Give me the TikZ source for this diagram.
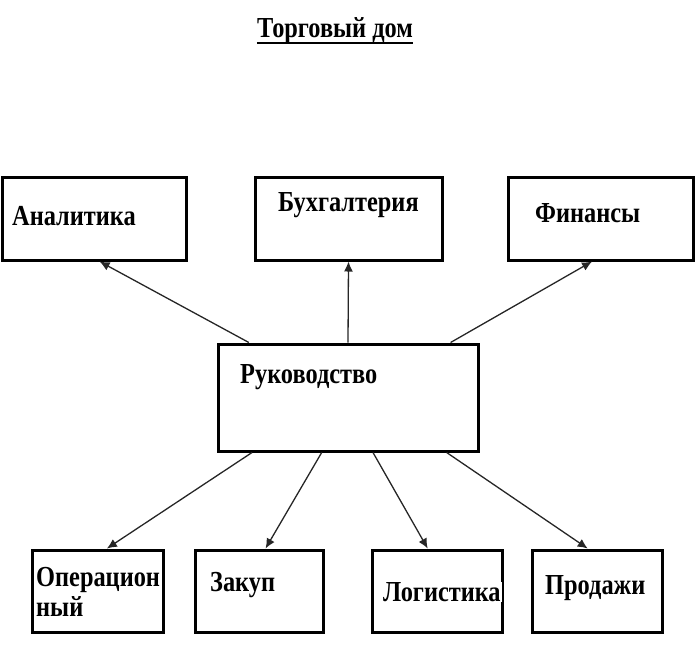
\documentclass[tikz,border=0pt]{standalone}
\usepackage{fontspec}
\setmainfont{Liberation Serif}[FakeStretch=0.84]
\usetikzlibrary{arrows.meta,calc}
\begin{document}
\begin{tikzpicture}[x=1pt,y=-1pt,
  box/.style={draw=black,line width=3pt,rectangle,inner sep=0pt},
  lbl/.style={anchor=west,inner sep=0pt,font=\fontsize{29}{30}\selectfont\bfseries},
  con/.style={line width=1.3pt,draw=black!85,-{Latex[length=10pt,width=9pt]}}]
\useasboundingbox (0,0) rectangle (700,646);
% title
\node[lbl,anchor=base] (title) at (335,37) {Торговый дом};
\draw[line width=2.2pt] ([yshift=-6pt]title.base west) -- ([yshift=-6pt]title.base east);
% boxes
\node[box,minimum width=184pt,minimum height=83pt] (an) at (94,218.5) {};
\node[box,minimum width=187pt,minimum height=83pt] (bu) at (348.5,218.5) {};
\node[box,minimum width=185pt,minimum height=83pt] (fi) at (600.5,218.5) {};
\node[box,minimum width=260pt,minimum height=107pt] (ru) at (348,397.5) {};
\node[box,minimum width=131pt,minimum height=82pt] (op) at (97.5,591) {};
\node[box,minimum width=128pt,minimum height=82pt] (za) at (259,591) {};
\node[box,minimum width=130pt,minimum height=82pt] (lo) at (437,591) {};
\node[box,minimum width=130pt,minimum height=82pt] (pr) at (597,591) {};
% labels
\node[lbl] (tan) at (12,216) {Аналитика};
\node[lbl] (tbu) at (278,205) {Бухгалтерия};
\node[lbl] (tfi) at (535,213) {Финансы};
\node[lbl] (tru) at (240,377) {Руководство};
\node[lbl,align=left] (top) at (36,592) {Операцион\\ный};
\node[lbl] (tza) at (210,585) {Закуп};
\node[lbl,fill=white,inner xsep=1pt] (tlo) at (382,592) {Логистика};
\node[lbl] (tpr) at (545,588) {Продажи};
% connectors
\coordinate (s1) at ($(ru.north west)!0.123!(ru.north east)$);
\coordinate (s2) at ($(ru.north west)!0.5!(ru.north east)$);
\coordinate (s3) at ($(ru.north west)!0.89!(ru.north east)$);
\coordinate (b1) at ($(ru.south west)!0.135!(ru.south east)$);
\coordinate (b2) at ($(ru.south west)!0.40!(ru.south east)$);
\coordinate (b3) at ($(ru.south west)!0.595!(ru.south east)$);
\coordinate (b4) at ($(ru.south west)!0.875!(ru.south east)$);
\draw[con] (s1) -- ($(an.south west)!0.53!(an.south east)$);
\draw[con] (s2) -- (bu.south);
\draw[con] (s3) -- ($(fi.south west)!0.455!(fi.south east)$);
\draw[con] (b1) -- ($(op.north west)!0.57!(op.north east)$);
\draw[con] (b2) -- ($(za.north west)!0.55!(za.north east)$);
\draw[con] (b3) -- ($(lo.north west)!0.43!(lo.north east)$);
\draw[con] (b4) -- ($(pr.north west)!0.43!(pr.north east)$);
\end{tikzpicture}
\end{document}
